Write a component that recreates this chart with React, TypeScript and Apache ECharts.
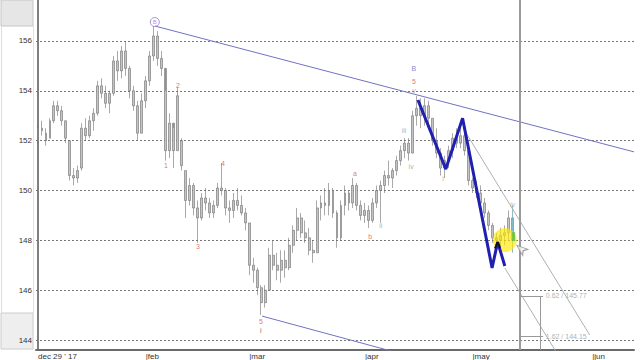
import React, { useEffect, useRef } from "react";
import * as echarts from "echarts";

const categoryCount = 150;
const yMin = 143.599;
const yMax = 157.645;
const yTicks = [144, 146, 148, 150, 152, 154, 156];
const monthIndex = [0, 27, 53, 82, 109, 139];
const monthText = ["dec 29 ' 17", "|feb", "|mar", "|apr", "|may", "|jun"];

const barOpen = [152.0, 152.5, 152.3, 152.1, 152.8, 153.4, 153.2, 152.8, 152.0, 150.6, 150.5, 150.9, 152.5, 152.2, 152.8, 153.1, 154.2, 153.9, 153.5, 153.9, 155.2, 154.8, 155.6, 154.9, 154.0, 153.4, 152.3, 153.6, 154.4, 155.4, 156.2, 155.3, 154.9, 151.6, 152.7, 151.6, 152.0, 150.8, 149.6, 150.2, 149.3, 148.9, 149.7, 149.5, 149.1, 149.4, 150.1, 150.0, 149.3, 149.2, 149.6, 149.4, 149.1, 148.7, 147.0, 146.8, 146.1, 145.5, 146.0, 147.4, 147.0, 146.8, 147.2, 146.9, 147.8, 148.4, 148.9, 148.3, 148.1, 147.6, 147.5, 149.3, 149.5, 149.4, 150.0, 149.1, 148.1, 149.4, 149.9, 149.5, 150.2, 149.4, 149.0, 149.2, 148.8, 149.5, 150.0, 150.2, 150.6, 150.5, 150.8, 151.2, 151.6, 151.9, 151.5, 153.0, 153.3, 153.0, 153.4, 152.9, 152.0, 151.5, 150.9, 151.2, 151.6, 152.1, 151.9, 152.2, 151.6, 150.4, 150.1, 149.9, 149.5, 149.1, 148.6, 148.1, 148.0, 148.2, 148.3, 148.9];
const barClose = [152.5, 152.4, 152.0, 152.8, 153.4, 153.2, 152.8, 152.1, 150.6, 150.5, 150.8, 152.5, 152.2, 152.8, 153.1, 154.2, 153.9, 153.5, 153.9, 155.2, 154.8, 155.6, 154.9, 154.0, 153.4, 152.3, 153.6, 154.4, 155.4, 156.2, 155.3, 154.9, 151.6, 152.7, 151.6, 153.8, 151.0, 149.6, 150.2, 149.3, 148.9, 149.7, 149.5, 149.1, 149.4, 150.1, 150.0, 149.3, 149.2, 149.6, 149.4, 149.1, 148.7, 147.0, 146.8, 146.1, 145.5, 146.0, 147.4, 147.0, 146.8, 147.2, 146.9, 147.8, 148.4, 148.9, 148.3, 148.1, 147.6, 147.5, 149.3, 149.5, 149.4, 150.0, 149.1, 148.1, 149.4, 149.9, 149.5, 150.2, 149.4, 149.0, 149.2, 148.8, 149.5, 150.0, 150.2, 150.6, 150.5, 150.8, 151.2, 151.6, 151.9, 151.5, 153.0, 153.3, 153.0, 153.4, 152.9, 152.0, 151.5, 150.9, 151.2, 151.6, 152.1, 151.9, 152.2, 151.6, 150.4, 150.1, 149.9, 149.5, 149.1, 148.6, 148.1, 148.0, 148.2, 148.3, 148.9, 148.0];
const barLow = [151.9, 152.2, 151.8, 152.1, 152.7, 153.0, 152.6, 151.9, 150.4, 150.2, 150.3, 150.8, 152.0, 152.1, 152.4, 153.0, 153.7, 153.3, 153.1, 153.8, 154.4, 154.5, 154.6, 153.7, 153.2, 152.0, 152.3, 153.3, 154.2, 155.2, 155.0, 154.6, 151.2, 151.3, 150.9, 151.6, 150.8, 148.9, 149.4, 149.0, 147.9, 148.8, 149.2, 148.9, 148.9, 149.3, 149.8, 149.0, 148.7, 148.9, 149.2, 149.0, 148.4, 146.6, 146.3, 145.8, 145.0, 145.3, 146.0, 146.8, 146.4, 146.3, 146.5, 146.8, 147.5, 148.0, 148.1, 147.9, 147.4, 147.1, 147.5, 148.8, 149.0, 149.0, 148.9, 147.7, 148.0, 149.0, 149.2, 149.3, 149.2, 148.8, 148.7, 148.5, 148.7, 149.3, 148.7, 149.9, 150.2, 150.1, 150.6, 151.0, 151.3, 151.2, 151.5, 152.6, 152.5, 152.6, 152.7, 151.8, 151.3, 150.6, 150.5, 150.9, 151.3, 151.7, 151.7, 151.4, 150.2, 149.9, 149.7, 149.3, 148.9, 148.4, 147.9, 147.6, 147.7, 147.8, 148.0, 147.5];
const barHigh = [152.6, 152.8, 152.5, 152.9, 153.6, 153.6, 153.4, 152.8, 152.0, 150.9, 151.0, 152.7, 152.9, 153.0, 153.3, 154.4, 154.5, 154.2, 154.0, 155.4, 155.6, 155.8, 156.0, 155.0, 154.2, 153.6, 153.9, 154.6, 155.6, 156.6, 156.4, 155.6, 154.0, 153.1, 152.5, 154.15, 152.1, 150.8, 150.5, 150.3, 149.6, 149.9, 150.1, 149.7, 149.6, 150.3, 151.1, 150.1, 149.6, 149.9, 150.1, 149.8, 149.3, 148.7, 147.3, 146.9, 146.2, 146.2, 147.7, 148.0, 147.5, 147.6, 147.6, 148.1, 148.6, 149.3, 149.1, 148.8, 148.5, 148.0, 149.6, 149.8, 150.1, 150.3, 150.1, 149.2, 149.6, 150.2, 150.0, 150.5, 150.3, 149.6, 149.5, 149.4, 149.7, 150.2, 150.4, 150.8, 151.2, 150.9, 151.4, 151.8, 152.1, 152.1, 153.2, 153.8, 153.7, 153.7, 153.6, 152.9, 152.5, 151.7, 151.4, 151.8, 152.3, 152.5, 152.5, 152.3, 151.7, 150.5, 150.4, 150.2, 149.7, 149.2, 148.7, 148.3, 148.5, 148.6, 149.2, 149.4];
const highlightBar = 119;

// trend / analysis lines in [barPosition, price]
const upperTrend = [[29.35, 156.6], [149.5, 151.55]];
const lowerTrend = [[56.2, 144.96], [95, 143.28]];
const grayLineA = [[106.6, 152.51], [138.4, 144.2]];
const grayLineB = [[117.1, 146.89], [131.2, 143.2]];
const zigzag = [[95.3, 153.63], [102.3, 150.86], [106.5, 152.9], [113.9, 146.89], [115.3, 147.93], [117.1, 146.97]];
const zigzagDark = [[114.6, 147.68], [115.3, 147.93], [115.9, 147.7]];
const highlightSpot = [117.1, 148.01];
const greenMark = [119.3, 148.15];
const cursorMark = [120.1, 147.8];

// fibonacci tool
const fibX = 120.9;
const fibEndX = 126.7;
const fibStemX = 125.9;
const fibLevels = [145.77, 144.15];
const fibText = ["0.62 / 145.77", "1.62 / 144.15"];

// wave labels: position, price, text, colour
const waveLabels: [number, number, string, string][] = [
  [35.1, 154.23, "2", "#d9534f"],
  [32.1, 151.02, "1", "#d9534f"],
  [40.1, 147.77, "3", "#d9534f"],
  [46.4, 151.1, "4", "#d9534f"],
  [55.9, 144.76, "5", "#d9534f"],
  [55.9, 144.39, "i", "#444444"],
  [79.5, 150.7, "a", "#d9534f"],
  [83.3, 148.17, "b", "#d9534f"],
  [86.0, 148.6, "ii", "#999999"],
  [91.8, 152.39, "iii", "#999999"],
  [93.6, 150.98, "iv", "#999999"],
  [94.3, 154.03, "v", "#999999"],
  [94.3, 154.39, "5", "#d9534f"],
  [94.3, 154.9, "B", "#6a6ab8"],
  [101.6, 150.5, "i", "#999999"],
  [119.1, 149.45, "iv", "#aaaaaa"],
];
const circledLabel = [29.3, 156.76, "B"];

export default function App() {
  const ref = useRef<HTMLDivElement>(null);
  useEffect(() => {
    if (!ref.current) return;
    const chart = echarts.init(ref.current, undefined, { renderer: "svg" });
    const cats = Array.from({ length: categoryCount }, (_, i) => String(i));
    const candles = barOpen.map((o, i) => {
      const v = [o, barClose[i], barLow[i], barHigh[i]];
      if (i === highlightBar) {
        return {
          value: v,
          itemStyle: { color: "#7fbccb", color0: "#7fbccb", borderColor: "#4a8fa0", borderColor0: "#4a8fa0" },
        };
      }
      return v;
    });
    const font = "Liberation Sans, Arial, sans-serif";
    const lineSeries = (data: number[][], color: string, width: number, z: number) => ({
      type: "line",
      xAxisIndex: 1,
      yAxisIndex: 0,
      data,
      showSymbol: false,
      symbol: "none",
      clip: true,
      silent: true,
      z,
      lineStyle: { color, width },
    });
    chart.setOption({
      animation: false,
      backgroundColor: "#ffffff",
      grid: { left: 36, right: 6, top: 0, bottom: 10, containLabel: false },
      graphic: [
        { type: "rect", shape: { x: 1, y: 0, width: 32, height: 26 }, style: { fill: "#e6e6e6", stroke: "#c6c6c6", lineWidth: 1 }, z: -1 },
        { type: "line", shape: { x1: 1.5, y1: 26, x2: 1.5, y2: 313 }, style: { stroke: "#dddddd", lineWidth: 1 }, z: -1 },
        { type: "line", shape: { x1: 33.5, y1: 26, x2: 33.5, y2: 313 }, style: { stroke: "#e2e2e2", lineWidth: 1 }, z: -1 },
        { type: "rect", shape: { x: 1, y: 313, width: 32, height: 36 }, style: { fill: "#eeeeee", stroke: "#cccccc", lineWidth: 1 }, z: -1 },
      ],
      xAxis: [
        {
          type: "category",
          data: cats,
          boundaryGap: true,
          axisLine: { show: true, lineStyle: { color: "#6a6a6a", width: 2 } },
          axisTick: { show: false },
          splitLine: { show: false },
          axisLabel: {
            interval: (idx: number) => monthIndex.indexOf(idx) >= 0,
            formatter: (_v: string, idx: number) => {
              const k = monthIndex.indexOf(idx);
              return k >= 0 ? monthText[k] : "";
            },
            align: "left",
            fontSize: 8,
            color: "#333333",
            fontFamily: font,
            margin: 2,
            hideOverlap: false,
          },
        },
        {
          type: "value",
          min: -0.5,
          max: categoryCount - 0.5,
          show: false,
          splitLine: { show: false },
        },
      ],
      yAxis: {
        type: "value",
        min: yMin,
        max: yMax,
        axisLine: { show: true, lineStyle: { color: "#555555", width: 1.5 } },
        axisTick: { show: false },
        splitLine: { show: false },
        axisLabel: {
          customValues: yTicks,
          fontSize: 8,
          color: "#333333",
          fontFamily: font,
          margin: 4,
        },
      },
      series: [
        {
          type: "candlestick",
          xAxisIndex: 0,
          yAxisIndex: 0,
          data: candles,
          barWidth: 2.4,
          z: 3,
          silent: true,
          itemStyle: {
            color: "#c4c4c4",
            color0: "#c4c4c4",
            borderColor: "#6e6e6e",
            borderColor0: "#6e6e6e",
            borderWidth: 0.6,
          },
          markLine: {
            silent: true,
            symbol: "none",
            animation: false,
            label: { show: false },
            lineStyle: { color: "#777777", type: [2, 2], width: 1 },
            data: yTicks.map((v) => ({ yAxis: v })),
            z: 1,
          },
        },
        lineSeries(upperTrend, "#7272c4", 1, 4),
        lineSeries(lowerTrend, "#7272c4", 1, 4),
        lineSeries(grayLineA, "#b0b0b0", 1, 4),
        lineSeries(grayLineB, "#b0b0b0", 1, 4),
        {
          type: "scatter",
          xAxisIndex: 1,
          yAxisIndex: 0,
          data: [highlightSpot],
          symbol: "circle",
          symbolSize: 24,
          silent: true,
          z: 5,
          itemStyle: { color: "rgba(255,232,0,0.82)" },
        },
        {
          type: "scatter",
          xAxisIndex: 1,
          yAxisIndex: 0,
          data: [greenMark],
          symbol: "rect",
          symbolSize: [3, 9],
          silent: true,
          z: 6,
          itemStyle: { color: "#55bb44" },
        },
        lineSeries(zigzag, "#1f1fb0", 3, 7),
        lineSeries(zigzagDark, "#111111", 1.8, 8),
        {
          type: "scatter",
          xAxisIndex: 1,
          yAxisIndex: 0,
          data: [cursorMark],
          symbol: "arrow",
          symbolSize: [6, 11],
          symbolRotate: 50,
          silent: true,
          z: 9,
          itemStyle: { color: "#f4f4f4", borderColor: "#888888", borderWidth: 1 },
        },
        {
          type: "line",
          xAxisIndex: 1,
          yAxisIndex: 0,
          data: [],
          silent: true,
          z: 4,
          markLine: {
            silent: true,
            symbol: "none",
            animation: false,
            label: { show: false },
            lineStyle: { color: "#999999", type: "solid", width: 1 },
            data: [
              { xAxis: fibX, lineStyle: { width: 2, color: "#9a9a9a" } },
              ...fibLevels.map((lv) => [
                { coord: [fibX, lv] },
                { coord: [fibEndX, lv] },
              ]),
              [{ coord: [fibStemX, fibLevels[0]] }, { coord: [fibStemX, yMin] }],
            ],
          },
        },
        {
          type: "scatter",
          xAxisIndex: 1,
          yAxisIndex: 0,
          silent: true,
          z: 10,
          symbolSize: 1,
          itemStyle: { color: "rgba(0,0,0,0)" },
          data: fibLevels.map((lv, i) => ({ value: [fibEndX + 0.3, lv], name: fibText[i] })),
          label: {
            show: true,
            position: "right",
            distance: 1,
            formatter: (p: any) => p.name,
            fontSize: 7,
            color: "#9a9a9a",
            fontFamily: font,
          },
        },
        {
          type: "scatter",
          xAxisIndex: 1,
          yAxisIndex: 0,
          silent: true,
          z: 10,
          symbolSize: 1,
          itemStyle: { color: "rgba(0,0,0,0)" },
          data: waveLabels.map((w) => ({
            value: [w[0], w[1]],
            name: w[2],
            label: { color: w[3] },
          })),
          label: {
            show: true,
            position: "inside",
            formatter: (p: any) => p.name,
            fontSize: 7,
            fontFamily: font,
          },
        },
        {
          type: "scatter",
          xAxisIndex: 1,
          yAxisIndex: 0,
          silent: true,
          z: 10,
          symbol: "circle",
          symbolSize: 9,
          itemStyle: { color: "rgba(255,255,255,0)", borderColor: "#a070d0", borderWidth: 1 },
          data: [{ value: [circledLabel[0], circledLabel[1]], name: circledLabel[2] }],
          label: {
            show: true,
            position: "inside",
            formatter: (p: any) => p.name,
            fontSize: 6,
            color: "#a070d0",
            fontFamily: font,
          },
        },
      ],
    });
    return () => chart.dispose();
  }, []);
  return (
    <div
      ref={ref}
      style={{ position: "absolute", left: 0, top: 0, width: 640, height: 360, background: "#ffffff" }}
    />
  );
}
